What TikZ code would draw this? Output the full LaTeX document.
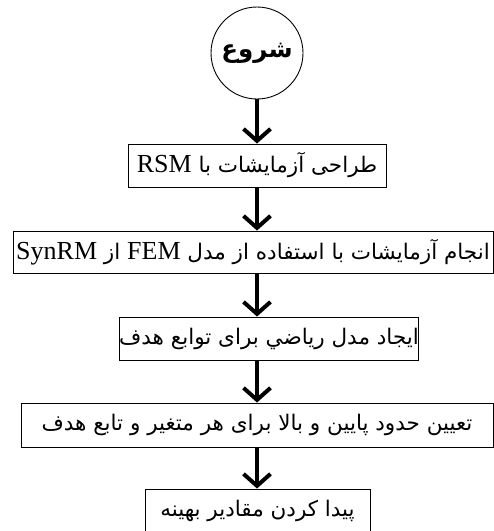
\documentclass[tikz,border=0pt]{standalone}
\usepackage{fontspec}
\setmainfont{Liberation Serif}
\newfontfamily\arabicfont[Script=Arabic]{DejaVu Sans}
\TeXXeTstate=1
\usetikzlibrary{arrows.meta}
\newcommand{\lat}[1]{\beginL{\rmfamily\fontsize{26}{28}\selectfont #1}\endL}
\begin{document}
\begin{tikzpicture}[x=1pt,y=-1pt,
  box/.style={draw, line width=0.9pt, inner sep=0pt, minimum height=43pt,
    font=\arabicfont\fontsize{21.5}{25}\selectfont},
  flow/.style={line width=4pt, -{Straight Barb[length=12pt,width=27pt,line width=4pt]}}]
\useasboundingbox (0,0) rectangle (494,531);
\clip (0,0) rectangle (494,531);
\coordinate (axis) at (257,0);
\node[circle, draw, line width=0.9pt, minimum size=92pt, inner sep=0pt] (start) at (257,53)
  {\arabicfont\bfseries\fontsize{24.5}{28}\selectfont\beginR شروع\endR};
\node[box, minimum width=258pt] (b1) at (257,165.5)
  {\beginR طراحی آزمایشات با \lat{RSM}\endR};
\node[box, minimum width=480pt, minimum height=42pt] (b2) at (253,252)
  {\beginR انجام آزمایشات با استفاده از مدل \lat{FEM} از \lat{SynRM}\endR};
\node[box, minimum width=294pt] (b3) at (269,338.5)
  {\beginR ایجاد مدل ریاضي برای توابع هدف\endR};
\node[box, minimum width=472pt, minimum height=44pt] (b4) at (257,425)
  {\beginR تعیین حدود پایین و بالا برای هر متغیر و تابع هدف\endR};
\node[box, minimum width=225pt, minimum height=44pt] (b5) at (257.5,511)
  {\beginR پیدا کردن مقادیر بهینه\endR};
\draw[flow] (start.south) -- (b1.north -| axis);
\draw[flow] (b1.south -| axis) -- (b2.north -| axis);
\draw[flow] (b2.south -| axis) -- (b3.north -| axis);
\draw[flow] (b3.south -| axis) -- (b4.north -| axis);
\draw[flow] (b4.south -| axis) -- (b5.north -| axis);
\end{tikzpicture}
\end{document}
